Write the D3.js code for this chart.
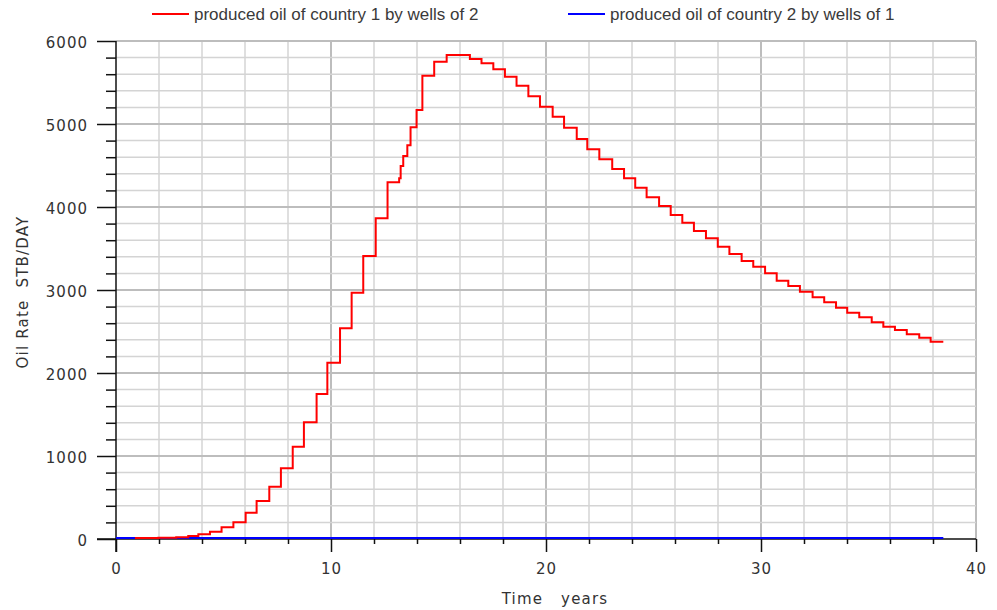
<!DOCTYPE html>
<html>
<head>
<meta charset="utf-8">
<script src="https://cdn.jsdelivr.net/npm/d3@7"></script>
<style>
  body { margin: 0; background: #fff; }
  svg { display: block; }
  .tick text { font-family: "DejaVu Sans", sans-serif; font-size: 15px; fill: #333; letter-spacing: 1px; }
  .title { font-family: "DejaVu Sans", sans-serif; font-size: 15px; fill: #333; letter-spacing: 1.2px; }
  .legend text { font-family: "Liberation Sans", Arial, sans-serif; font-size: 17px; fill: #3a3a3a; }
</style>
</head>
<body>
<svg id="chart" width="997" height="610"></svg>
<script>
// step start times (years) and oil rate (STB/DAY) of country 1
var times = [0.88, 1.97, 2.8, 3.36, 3.83, 4.37, 4.91, 5.46, 6.03, 6.54, 7.13, 7.67, 8.22, 8.74,
  9.33, 9.83, 10.42, 10.96, 11.5, 12.08, 12.63, 13.17, 13.24, 13.36, 13.55, 13.7, 13.98, 14.25,
  14.8, 15.38, 16.46, 17.0, 17.55, 18.09, 18.63, 19.18, 19.72, 20.31, 20.84, 21.43, 21.92, 22.48,
  23.08, 23.63, 24.15, 24.68, 25.26, 25.8, 26.34, 26.88, 27.44, 27.99, 28.53, 29.1, 29.64, 30.19,
  30.73, 31.27, 31.81, 32.4, 32.94, 33.49, 34.01, 34.57, 35.15, 35.69, 36.23, 36.78, 37.36, 37.89,
  38.48]
var rates1 = [12, 15, 20, 36, 56, 88, 141, 201, 317, 458, 630, 851, 1112, 1406,
  1747, 2124, 2538, 2968, 3410, 3864, 4298, 4346, 4494, 4614, 4743, 4960, 5169, 5582,
  5751, 5831, 5783, 5731, 5659, 5570, 5460, 5334, 5209, 5088, 4956, 4819, 4695, 4574,
  4458, 4346, 4233, 4117, 4012, 3904, 3811, 3711, 3623, 3522, 3434, 3349, 3281, 3201,
  3112, 3048, 2980, 2912, 2852, 2787, 2727, 2671, 2611, 2558, 2518, 2466, 2426, 2378,
  2378]

// country 2 stays at zero the whole run
var times2 = [0, 38.48]
var rates2 = [0, 0]

var legendLabels = ['produced oil of country 1 by wells of 2', 'produced oil of country 2 by wells of 1']
var xTicks = [0, 10, 20, 30, 40]
var yTicks = [0, 1000, 2000, 3000, 4000, 5000, 6000]

var svg = d3.select('#chart')

var x = d3.scaleLinear().domain([0, 40]).range([116, 976])
var y = d3.scaleLinear().domain([0, 6000]).range([539, 41])

var xMinor = d3.range(2, 41, 2)
var yMinor = d3.range(200, 6001, 200)

// grid
var grid = svg.append('g')
grid.selectAll('line.vx')
  .data(xMinor)
  .enter().append('line')
  .attr('x1', d => x(d)).attr('x2', d => x(d))
  .attr('y1', y(0)).attr('y2', y(6000))
  .style('stroke', d => d % 10 === 0 ? '#bdbdbd' : '#d4d4d4')
  .style('stroke-width', d => d % 10 === 0 ? 2 : 1.5)

grid.selectAll('line.hy')
  .data(yMinor)
  .enter().append('line')
  .attr('x1', x(0)).attr('x2', x(40))
  .attr('y1', d => y(d)).attr('y2', d => y(d))
  .style('stroke', d => d % 1000 === 0 ? '#bdbdbd' : '#d4d4d4')
  .style('stroke-width', d => d % 1000 === 0 ? 2 : 1.5)

// axes: major ticks with labels, minor ticks without
var yAxis = svg.append('g')
  .attr('transform', 'translate(' + x(0) + ',0)')
  .call(d3.axisLeft(y).tickValues(yTicks).tickSize(19).tickPadding(9).tickFormat(d3.format('d')))
yAxis.append('g')
  .call(d3.axisLeft(y).tickValues(yMinor.filter(d => d % 1000 !== 0)).tickSize(10).tickFormat(''))

var xAxis = svg.append('g')
  .attr('transform', 'translate(0,' + y(0) + ')')
  .call(d3.axisBottom(x).tickValues(xTicks).tickSize(13).tickPadding(11).tickFormat(d3.format('d')))
xAxis.append('g')
  .call(d3.axisBottom(x).tickValues(xMinor.filter(d => d % 10 !== 0)).tickSize(5).tickFormat(''))

svg.selectAll('.domain').remove()
svg.selectAll('.tick line').style('stroke', '#111').style('stroke-width', 1.5)
yAxis.selectAll('.tick text').attr('dy', '0.45em')

// axis lines
svg.append('line')
  .attr('x1', x(0)).attr('x2', x(0))
  .attr('y1', y(6000)).attr('y2', y(0) + 13)
  .style('stroke', '#111').style('stroke-width', 1.5)
svg.append('line')
  .attr('x1', x(0) - 19).attr('x2', x(40))
  .attr('y1', y(0)).attr('y2', y(0))
  .style('stroke', '#111').style('stroke-width', 1.5)

// series
var line = d3.line()
  .x(d => x(d[0]))
  .y(d => y(d[1]))
  .curve(d3.curveStepAfter)

svg.append('path')
  .datum(d3.zip(times2, rates2))
  .attr('d', line)
  .style('fill', 'none')
  .style('stroke', '#0000ff')
  .style('stroke-width', 2)
  .attr('transform', 'translate(0,-1)')

svg.append('path')
  .datum(d3.zip(times, rates1))
  .attr('d', line)
  .style('fill', 'none')
  .style('stroke', '#ff0000')
  .style('stroke-width', 2)

// titles
svg.append('text')
  .attr('class', 'title')
  .attr('x', 555).attr('y', 604)
  .attr('text-anchor', 'middle')
  .attr('xml:space', 'preserve')
  .text('Time   years')

svg.append('text')
  .attr('class', 'title')
  .attr('transform', 'translate(28,292) rotate(-90)')
  .attr('text-anchor', 'middle')
  .attr('xml:space', 'preserve')
  .text('Oil Rate  STB/DAY')

// legend
var legendX = [152, 568]
var legendColors = ['#ff0000', '#0000ff']
var legend = svg.append('g').attr('class', 'legend')
legendLabels.forEach(function (label, i) {
  legend.append('line')
    .attr('x1', legendX[i]).attr('x2', legendX[i] + 37)
    .attr('y1', 14).attr('y2', 14)
    .style('stroke', legendColors[i])
    .style('stroke-width', 2)
  legend.append('text')
    .attr('x', legendX[i] + 42)
    .attr('y', 20)
    .text(label)
})
</script>
</body>
</html>
